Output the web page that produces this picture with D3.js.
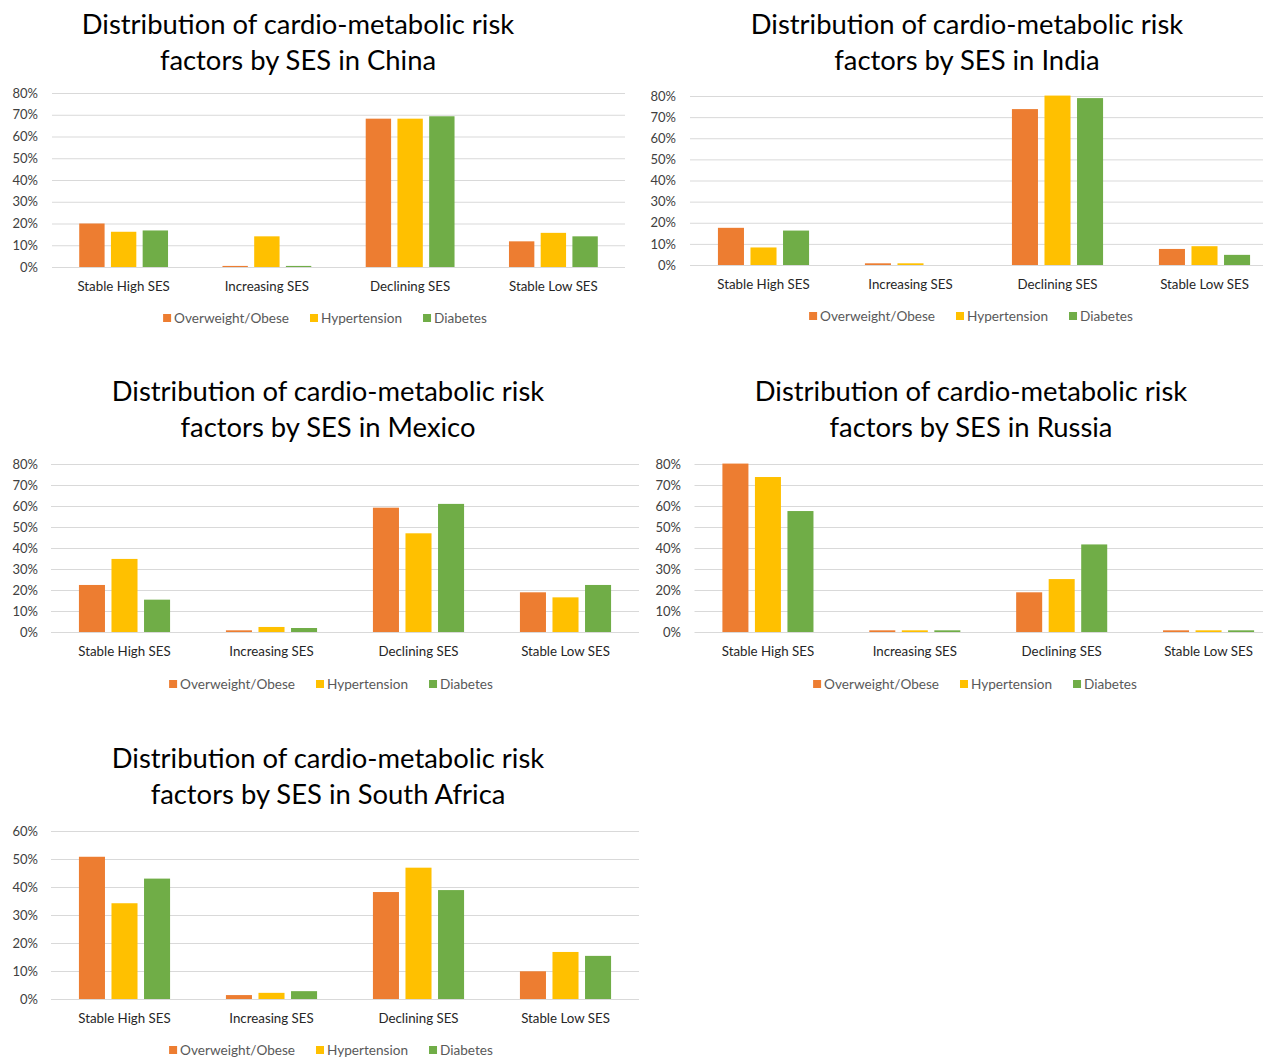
<!DOCTYPE html>
<html>
<head>
<meta charset="utf-8">
<script src="https://cdn.jsdelivr.net/npm/d3@7"></script>
<style>
  html, body { margin: 0; padding: 0; background: #fff; }
  svg { display: block; }
  text { font-family: Lato, "Open Sans", sans-serif; }
</style>
</head>
<body>
<svg id="chart" width="1263" height="1058"></svg>
<script>
// ---------- DATA ----------
const categories = ["Stable High SES", "Increasing SES", "Declining SES", "Stable Low SES"];
const seriesNames = ["Overweight/Obese", "Hypertension", "Diabetes"];
const seriesColors = ["#ED7D31", "#FFC000", "#70AD47"];

const chinaOverweight = [20.0, 0.5, 68.2, 11.8];
const chinaHypertension = [16.2, 14.1, 68.2, 15.7];
const chinaDiabetes = [16.8, 0.5, 69.3, 14.1];

const indiaOverweight = [17.6, 0.8, 73.8, 7.6];
const indiaHypertension = [8.3, 0.8, 80.2, 8.9];
const indiaDiabetes = [16.3, 0.0, 79.0, 4.8];

const mexicoOverweight = [22.4, 0.8, 59.2, 18.9];
const mexicoHypertension = [34.8, 2.4, 47.0, 16.5];
const mexicoDiabetes = [15.4, 1.9, 61.0, 22.4];

const russiaOverweight = [80.2, 0.8, 18.9, 0.8];
const russiaHypertension = [73.8, 0.8, 25.2, 0.8];
const russiaDiabetes = [57.6, 0.8, 41.7, 0.8];

const southAfricaOverweight = [50.8, 1.4, 38.2, 9.9];
const southAfricaHypertension = [34.2, 2.2, 46.9, 16.8];
const southAfricaDiabetes = [43.0, 2.8, 38.9, 15.4];

const ticks80 = [0, 10, 20, 30, 40, 50, 60, 70, 80];
const ticks60 = [0, 10, 20, 30, 40, 50, 60];

const countries = [
  { name: "China", series: [chinaOverweight, chinaHypertension, chinaDiabetes], ticks: ticks80 },
  { name: "India", series: [indiaOverweight, indiaHypertension, indiaDiabetes], ticks: ticks80 },
  { name: "Mexico", series: [mexicoOverweight, mexicoHypertension, mexicoDiabetes], ticks: ticks80 },
  { name: "Russia", series: [russiaOverweight, russiaHypertension, russiaDiabetes], ticks: ticks80 },
  { name: "South Africa", series: [southAfricaOverweight, southAfricaHypertension, southAfricaDiabetes], ticks: ticks60 }
];

// ---------- LAYOUT (separate from data) ----------
const layouts = [
  { titleX: 298, titleY: 24, x0: 52,    x1: 625,  yTop: 93,  yBot: 267, tickX: 38,  catY: 286,  legY: 318,  legX: 325 },
  { titleX: 967, titleY: 24, x0: 690,   x1: 1278, yTop: 96,  yBot: 265, tickX: 676, catY: 284,  legY: 316,  legX: 971 },
  { titleX: 328, titleY: 391, x0: 51,   x1: 639,  yTop: 464, yBot: 632, tickX: 38,  catY: 651,  legY: 684,  legX: 331 },
  { titleX: 971, titleY: 391, x0: 694.5,x1: 1282, yTop: 464, yBot: 632, tickX: 681, catY: 651,  legY: 684,  legX: 975 },
  { titleX: 328, titleY: 758, x0: 51,   x1: 639,  yTop: 831, yBot: 999, tickX: 38,  catY: 1018, legY: 1050, legX: 331 }
];

const svg = d3.select("#chart");

countries.forEach((c, i) => {
  const L = layouts[i];
  const g = svg.append("g");

  // Title
  const title = g.append("text")
    .attr("x", L.titleX).attr("text-anchor", "middle")
    .attr("font-size", 27.4).attr("fill", "#000");
  title.append("tspan").attr("x", L.titleX).attr("y", L.titleY).attr("dy", "0.35em")
    .text("Distribution of cardio-metabolic risk");
  title.append("tspan").attr("x", L.titleX).attr("y", L.titleY + 36).attr("dy", "0.35em")
    .text("factors by SES in " + c.name);

  const yMax = d3.max(c.ticks);
  const y = d3.scaleLinear().domain([0, yMax]).range([L.yBot, L.yTop]);
  const x = d3.scaleBand().domain(categories).range([L.x0, L.x1]).paddingInner(0).paddingOuter(0);
  const groupW = x.bandwidth() * 0.62;
  const x1 = d3.scaleBand().domain(seriesNames).range([-groupW / 2, groupW / 2]).paddingInner(0.2).paddingOuter(0);

  // Gridlines + y tick labels
  const yAxis = d3.axisLeft(y).tickValues(c.ticks)
    .tickSize(-(Math.min(L.x1, 1263) - L.x0)).tickFormat(d => d + "%").tickPadding(14);
  const ya = g.append("g").attr("transform", `translate(${L.x0},0)`).call(yAxis);
  ya.select(".domain").remove();
  ya.selectAll(".tick line").attr("stroke", "#d9d9d9").attr("stroke-width", 1);
  ya.selectAll(".tick text").attr("font-size", 13).attr("fill", "#404040")
    .attr("x", L.tickX - L.x0).attr("font-family", "Lato, sans-serif");

  // Bars
  categories.forEach((cat, ci) => {
    const cx = x(cat) + x.bandwidth() / 2;
    g.selectAll(null)
      .data(seriesNames.map((s, si) => ({ s, si, v: c.series[si][ci] })))
      .join("rect")
      .attr("x", d => cx + x1(d.s))
      .attr("width", x1.bandwidth())
      .attr("y", d => y(d.v))
      .attr("height", d => y(0) - y(d.v))
      .attr("fill", d => seriesColors[d.si]);
  });

  // Category axis labels
  const xAxis = d3.axisBottom(x).tickSize(0).tickPadding(0);
  const xa = g.append("g").attr("transform", `translate(0,${L.catY})`).call(xAxis);
  xa.select(".domain").remove();
  xa.selectAll(".tick text").attr("font-size", 13.3).attr("fill", "#262626")
    .attr("dy", "0.35em").attr("y", 0).attr("font-family", "Lato, sans-serif");

  // Legend
  const leg = g.append("g");
  const items = seriesNames.map((s, si) => {
    const it = leg.append("g");
    it.append("rect").attr("width", 8).attr("height", 8).attr("y", -4).attr("fill", seriesColors[si]);
    const t = it.append("text").attr("x", 11).attr("dy", "0.35em")
      .attr("font-size", 13.6).attr("fill", "#595959").text(s);
    return { it, w: 11 + t.node().getComputedTextLength() };
  });
  const gap = 21;
  const total = d3.sum(items, d => d.w) + gap * (items.length - 1);
  let cursor = L.legX - total / 2;
  items.forEach(d => {
    d.it.attr("transform", `translate(${cursor},${L.legY})`);
    cursor += d.w + gap;
  });
});
</script>
</body>
</html>
